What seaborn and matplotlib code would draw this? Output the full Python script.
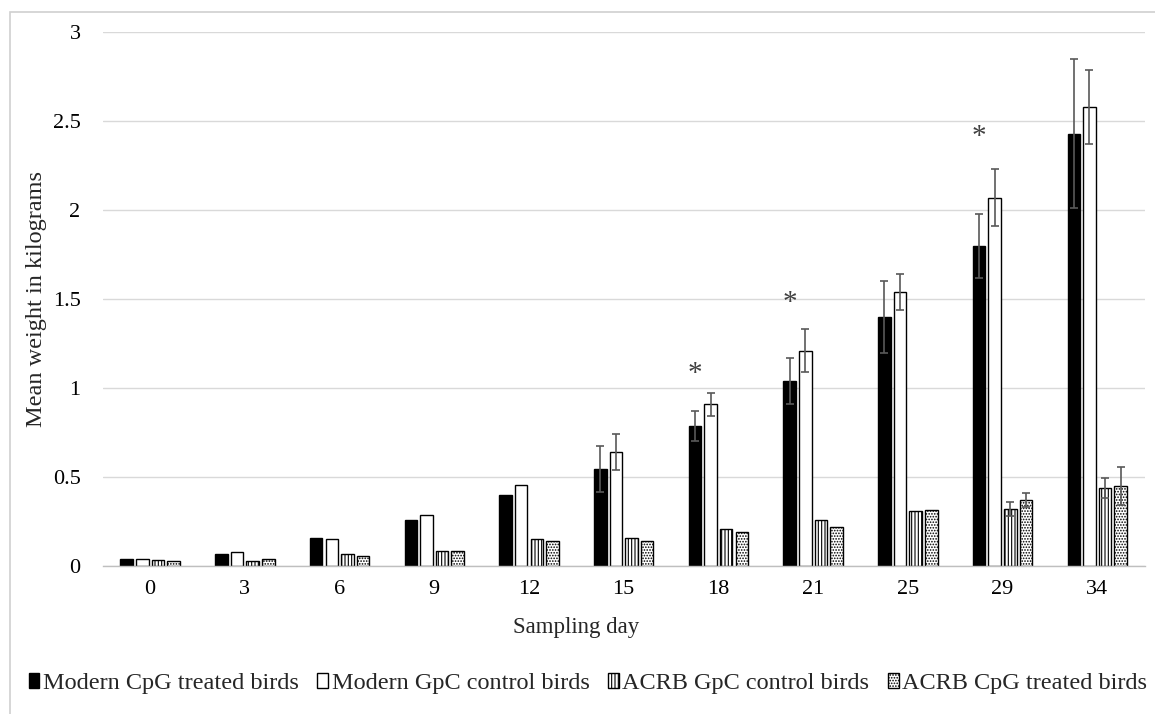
import numpy as np
import pandas as pd
import matplotlib
matplotlib.use("Agg")
import matplotlib.pyplot as plt
import seaborn as sns
from matplotlib.patches import Rectangle, Patch

# ---- data ----
days = ["0", "3", "6", "9", "12", "15", "18", "21", "25", "29", "34"]
series = ["Modern CpG treated birds", "Modern GpC control birds",
          "ACRB GpC control birds", "ACRB CpG treated birds"]
modern_cpg = [0.041, 0.07, 0.157, 0.262, 0.40, 0.545, 0.787, 1.04, 1.40, 1.80, 2.43]
modern_gpc = [0.040, 0.08, 0.154, 0.285, 0.457, 0.64, 0.91, 1.21, 1.54, 2.07, 2.58]
acrb_gpc = [0.033, 0.032, 0.067, 0.086, 0.154, 0.16, 0.21, 0.26, 0.31, 0.32, 0.44]
acrb_cpg = [0.030, 0.039, 0.060, 0.086, 0.139, 0.14, 0.19, 0.22, 0.315, 0.37, 0.45]
err_modern_cpg = [0, 0, 0, 0, 0, 0.13, 0.085, 0.13, 0.20, 0.18, 0.42]
err_modern_gpc = [0, 0, 0, 0, 0, 0.10, 0.065, 0.12, 0.10, 0.16, 0.21]
err_acrb_gpc = [0, 0, 0, 0, 0, 0, 0, 0, 0, 0.04, 0.055]
err_acrb_cpg = [0, 0, 0, 0, 0, 0, 0, 0, 0, 0.04, 0.105]
star_days = ["18", "21", "29"]
star_y = [1.08, 1.48, 2.41]
yticks = [0, 0.5, 1, 1.5, 2, 2.5, 3]
ytick_labels = ["0", "0.5", "1", "1.5", "2", "2.5", "3"]

values = [modern_cpg, modern_gpc, acrb_gpc, acrb_cpg]
errors = [err_modern_cpg, err_modern_gpc, err_acrb_gpc, err_acrb_cpg]
df = pd.DataFrame({
    "day": np.tile(days, len(series)),
    "group": np.repeat(series, len(days)),
    "weight": np.concatenate(values),
})

sns.set_theme(style="white")
plt.rcParams["font.family"] = ["Liberation Serif", "DejaVu Serif"]
plt.rcParams["hatch.linewidth"] = 0.8
plt.rcParams["hatch.color"] = "black"

fig = plt.figure(figsize=(11.55, 7.14), dpi=100)
ax = fig.add_axes([0.089, 0.207, 0.902, 0.748])

sns.barplot(data=df, x="day", y="weight", hue="group", order=days,
            hue_order=series, palette=["black", "white", "white", "white"],
            width=0.66, gap=0.2, edgecolor="black", linewidth=1,
            errorbar=None, legend=False, ax=ax)

hatches = [None, None, "|||||", "......"]
for cont, hatch, errs in zip(ax.containers, hatches, errors):
    for bar, e in zip(cont, errs):
        if hatch:
            bar.set_hatch(hatch)
        if e > 0:
            ax.errorbar(bar.get_x() + bar.get_width() / 2, bar.get_height(),
                        yerr=e, fmt="none", ecolor="#595959", elinewidth=1.2,
                        capsize=3, capthick=1.2, zorder=5)

# significance asterisks above black bars
black = ax.containers[0]
for d, yv in zip(star_days, star_y):
    b = black[days.index(d)]
    ax.text(b.get_x() + b.get_width() / 2, yv, "*", ha="center", va="center",
            fontsize=21, color="#404040")

ax.set_ylim(0, 3)
ax.set_xlim(-0.5, len(days) - 0.5)
ax.set_yticks(yticks)
ax.set_yticklabels(ytick_labels)
ax.yaxis.grid(True, color="#d9d9d9", linewidth=1)
ax.set_axisbelow(True)
for s in ["top", "right", "left"]:
    ax.spines[s].set_visible(False)
ax.spines["bottom"].set_color("#bfbfbf")
ax.spines["bottom"].set_linewidth(1)
ax.tick_params(axis="both", length=0, labelsize=16, colors="black")
ax.tick_params(axis="y", pad=16)
ax.tick_params(axis="x", pad=10)
ax.set_xlabel("Sampling day", fontsize=16.5)
ax.xaxis.set_label_coords(0.454, -0.095)
ax.set_ylabel("Mean weight in kilograms", fontsize=17.5, labelpad=4)

handles = [
    Patch(facecolor="black", edgecolor="black", label=series[0]),
    Patch(facecolor="white", edgecolor="black", label=series[1]),
    Patch(facecolor="white", edgecolor="black", hatch="|||||", label=series[2]),
    Patch(facecolor="white", edgecolor="black", hatch="......", label=series[3]),
]
fig.legend(handles=handles, loc="center", bbox_to_anchor=(0.509, 0.043),
           ncol=4, frameon=False, fontsize=17.5, handlelength=0.45,
           handleheight=0.6, handletextpad=0.15, columnspacing=0.75)

# light outer border (top and left visible)
top = 1 - 12 / 714
fig.patches.append(Rectangle((10 / 1155, -0.2), 1.5, top + 0.2,
                             transform=fig.transFigure, fill=False,
                             edgecolor="#d0d0d0", linewidth=1.2))

fig.savefig("out.png", dpi=100, facecolor="white")
